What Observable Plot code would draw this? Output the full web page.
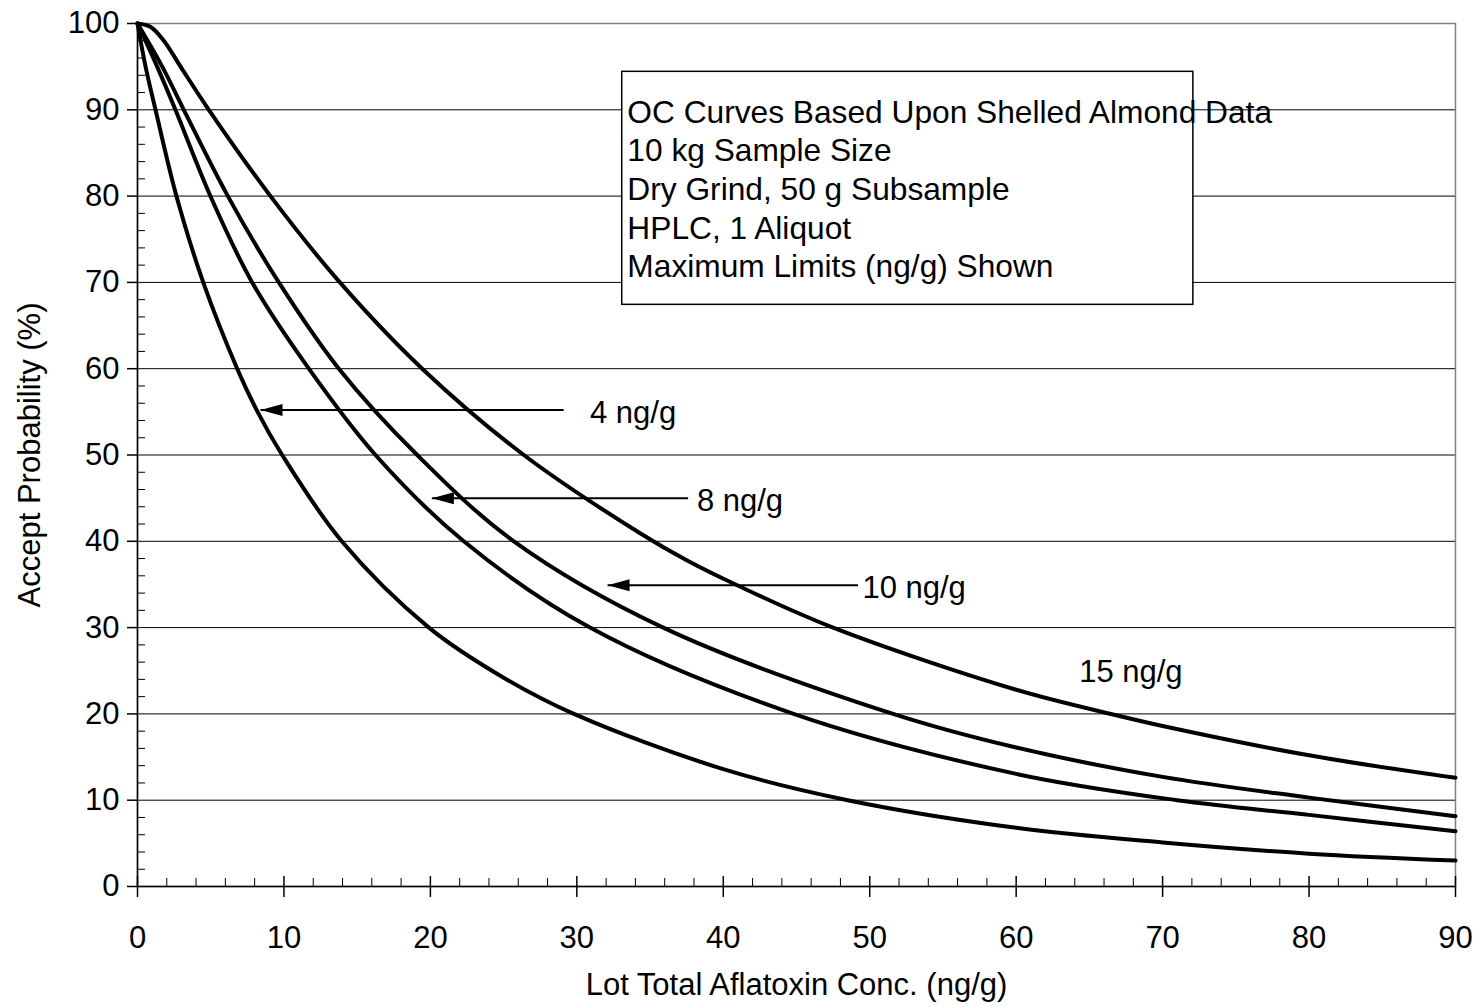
<!DOCTYPE html>
<html>
<head>
<meta charset="utf-8">
<script src="https://cdn.jsdelivr.net/npm/d3@7"></script>
<script src="https://cdn.jsdelivr.net/npm/@observablehq/plot@0.6"></script>
<style>
  html, body { margin: 0; padding: 0; background: #fff; }
  #chart svg { display: block; font-family: "Liberation Sans", Arial, sans-serif; }
</style>
</head>
<body>
<div id="chart"></div>
<script>
// ---- Data ----
const seriesNames = ["4 ng/g", "8 ng/g", "10 ng/g", "15 ng/g"];

const x4 = [0, 0.55, 1.23, 2.66, 4.49, 6.81, 8.2, 9.88, 13.95, 19.9, 24.8, 29.8, 40, 48.5, 60, 70, 80, 90];
const y4 = [100, 95, 90, 80, 70, 60, 55, 50, 40, 30, 24.4, 20, 13.6, 10, 6.8, 5.1, 3.8, 3.0];

const x8 = [0, 1.34, 2.59, 4.98, 7.83, 11.7, 16.25, 22.28, 30.9, 44.8, 60, 71.0, 80, 90];
const y8 = [100, 95, 90, 80, 70, 60, 50, 40, 30, 20, 13.05, 10, 8.3, 6.4];

const x10 = [0, 1.69, 3.16, 6.17, 9.65, 13.75, 19.1, 25.7, 35.9, 51.6, 60, 70, 80, 90];
const y10 = [100, 95, 90, 80, 70, 60, 50, 40, 30, 20, 16.1, 12.7, 10.3, 8.15];

const x15 = [0, 0.9, 1.8, 2.94, 4.87, 9.08, 13.82, 19.44, 26.38, 34.35, 37.5, 40.95, 47.5, 60, 66.7, 70, 80, 90];
const y15 = [100, 99.6, 98.0, 95, 90, 80, 70, 60, 50, 40.9, 37.8, 34.9, 30, 22.8, 19.9, 18.6, 15.2, 12.6];

const xMajorTicks = [0, 10, 20, 30, 40, 50, 60, 70, 80, 90];
const xMinorTicks = d3.range(0, 91, 2).filter(v => v % 10 !== 0);
const yMajorTicks = [0, 10, 20, 30, 40, 50, 60, 70, 80, 90, 100];
const yMinorTicks = d3.range(0, 101, 2).filter(v => v % 10 !== 0);
const yGridTicks = [10, 20, 30, 40, 50, 60, 70, 80, 90];

const xTitle = "Lot Total Aflatoxin Conc. (ng/g)";
const yTitle = "Accept Probability (%)";
const noteLines = [
  "OC Curves Based Upon Shelled Almond Data",
  "10 kg Sample Size",
  "Dry Grind, 50 g Subsample",
  "HPLC, 1 Aliquot",
  "Maximum Limits (ng/g) Shown"
];

// Annotation anchors (data units)
const labelX = [30.9, 38.2, 49.5, 64.3];
const labelY = [54.8, 44.7, 34.6, 24.8];
const arrowTipX = [8.4, 20.1, 32.1];
const arrowTailX = [29.1, 37.6, 49.2];
const arrowY = [55.2, 45.0, 34.9];
const noteBox = [{x1: 33.1, x2: 72.1, y1: 67.4, y2: 94.4}];
const noteAnchor = [{x: 33.45, y: 81.0}];

// ---- Build tables ----
const xsAll = [x4, x8, x10, x15];
const ysAll = [y4, y8, y10, y15];
const curves = seriesNames.flatMap((s, i) => xsAll[i].map((x, j) => ({series: s, x, y: ysAll[i][j]})));
const labels = seriesNames.map((s, i) => ({text: s, x: labelX[i], y: labelY[i]}));
const arrows = arrowTipX.map((t, i) => ({x1: arrowTailX[i], x2: t, y: arrowY[i]}));

const arrowHead = {
  draw(ctx) {
    ctx.moveTo(0, 0);
    ctx.lineTo(22, -6);
    ctx.lineTo(22, 6);
    ctx.closePath();
  }
};

const W = 1479, H = 1007;
const mL = 137, mR = 24, mT = 23, mB = 121;
const pw = W - mL - mR, ph = H - mT - mB;
const FS = 31;

const chart = Plot.plot({
  width: W,
  height: H,
  marginLeft: mL,
  marginRight: mR,
  marginTop: mT,
  marginBottom: mB,
  style: {fontFamily: "'Liberation Sans', Arial, sans-serif", background: "#fff", overflow: "visible"},
  x: {domain: [0, 90], axis: null},
  y: {domain: [0, 100], axis: null},
  marks: [
    Plot.ruleY(yGridTicks, {stroke: "#000", strokeWidth: 1}),
    Plot.frame({stroke: "#808080", strokeWidth: 1.5}),
    Plot.rect(noteBox, {x1: "x1", x2: "x2", y1: "y1", y2: "y2", fill: "#fff", stroke: "#000", strokeWidth: 1.5}),
    Plot.text(noteAnchor, {x: "x", y: "y", text: () => noteLines.join("\n"), textAnchor: "start", lineAnchor: "middle", lineHeight: 1.22, fontSize: 31.7, fill: "#000"}),
    // axis lines
    Plot.ruleX([0], {stroke: "#000", strokeWidth: 1.5}),
    Plot.ruleY([0], {stroke: "#000", strokeWidth: 1.5}),
    // minor ticks (inward)
    Plot.tickY(yMinorTicks, {y: d => d, insetRight: pw - 8, stroke: "#000", strokeWidth: 1}),
    Plot.tickX(xMinorTicks, {x: d => d, insetTop: ph - 8, stroke: "#000", strokeWidth: 1}),
    // major ticks
    Plot.tickY(yMajorTicks, {y: d => d, insetLeft: -10, insetRight: pw, stroke: "#000", strokeWidth: 1.5}),
    Plot.tickX(xMajorTicks, {x: d => d, insetTop: ph - 10, insetBottom: -11, stroke: "#000", strokeWidth: 1.5}),
    // tick labels
    Plot.text(xMajorTicks, {x: d => d, text: d => String(d), frameAnchor: "bottom", lineAnchor: "middle", dy: 52, fontSize: FS, fill: "#000"}),
    Plot.text(yMajorTicks, {y: d => d, text: d => String(d), frameAnchor: "left", textAnchor: "end", dx: -18, fontSize: FS, fill: "#000"}),
    // axis titles
    Plot.text([xTitle], {text: d => d, frameAnchor: "bottom", lineAnchor: "middle", textAnchor: "middle", dy: 99, fontSize: FS, fill: "#000"}),
    Plot.text([yTitle], {text: d => d, frameAnchor: "left", textAnchor: "middle", lineAnchor: "middle", rotate: -90, dx: -107, fontSize: FS, fill: "#000"}),
    // curves
    Plot.line(curves, {x: "x", y: "y", z: "series", stroke: "#000", strokeWidth: 4, curve: "catmull-rom"}),
    // arrows
    Plot.link(arrows, {x1: "x1", x2: "x2", y1: "y", y2: "y", stroke: "#000", strokeWidth: 2}),
    Plot.dot(arrows, {x: "x2", y: "y", symbol: arrowHead, fill: "#000", stroke: "none"}),
    // series labels
    Plot.text(labels, {x: "x", y: "y", text: "text", textAnchor: "start", fontSize: FS, fill: "#000"})
  ]
});

document.getElementById("chart").appendChild(chart);
</script>
</body>
</html>
